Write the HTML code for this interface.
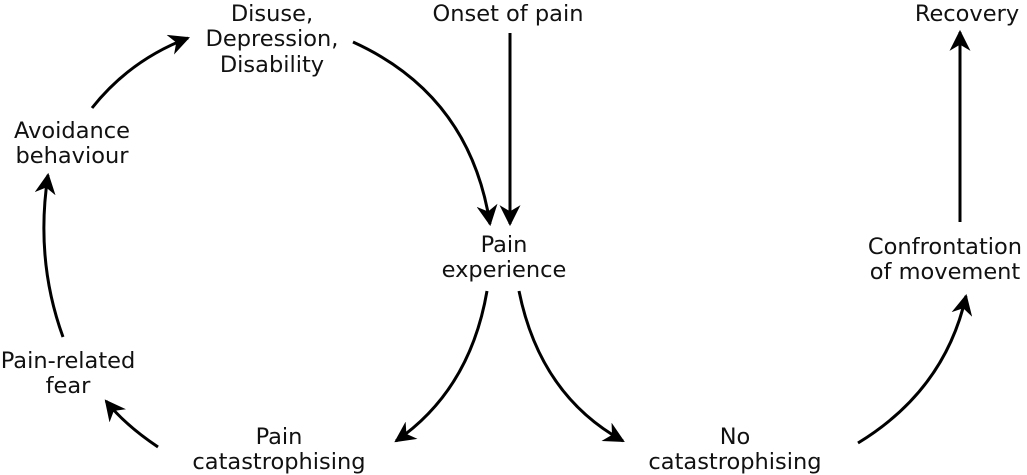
<!DOCTYPE html>
<html><head><meta charset="utf-8"><style>
html,body{margin:0;padding:0;background:#fff;}
svg{display:block;}
text{font-family:"DejaVu Sans","Liberation Sans",sans-serif;font-size:22.5px;fill:#111;text-anchor:middle;}
path{fill:none;stroke:#000;stroke-width:3;}
</style></head><body>
<svg width="1027" height="475" viewBox="0 0 1027 475" xmlns="http://www.w3.org/2000/svg">
<defs>
<marker id="a" viewBox="0 0 10 10" refX="9" refY="5" markerWidth="7" markerHeight="7" markerUnits="strokeWidth" orient="auto">
<path d="M0,0 L10,5 L0,10 L3,5 Z" style="fill:#000;stroke:none"/>
</marker>
</defs>
<text x="272" y="21">Disuse,</text>
<text x="272" y="46">Depression,</text>
<text x="272" y="72">Disability</text>
<text x="508" y="21">Onset of pain</text>
<text x="967" y="21">Recovery</text>
<text x="72" y="138">Avoidance</text>
<text x="72" y="163">behaviour</text>
<text x="504" y="252">Pain</text>
<text x="504" y="277">experience</text>
<text x="945" y="254">Confrontation</text>
<text x="945" y="279">of movement</text>
<text x="68" y="368">Pain-related</text>
<text x="68" y="393">fear</text>
<text x="279" y="444">Pain</text>
<text x="279" y="469">catastrophising</text>
<text x="735" y="444">No</text>
<text x="735" y="469">catastrophising</text>

<path d="M510,33 L510,224" marker-end="url(#a)"/>
<path d="M353,42 Q470,95 490,224" marker-end="url(#a)"/>
<path d="M92,108 Q130,60 188,38" marker-end="url(#a)"/>
<path d="M63,337 Q35,260 48,175" marker-end="url(#a)"/>
<path d="M158,447 Q125,425 106,401" marker-end="url(#a)"/>
<path d="M487,291 Q470,390 396,441" marker-end="url(#a)"/>
<path d="M519,291 Q540,395 623,441" marker-end="url(#a)"/>
<path d="M858,443 Q945,390 966,296" marker-end="url(#a)"/>
<path d="M960,222 L960,32" marker-end="url(#a)"/>
</svg>
</body></html>
